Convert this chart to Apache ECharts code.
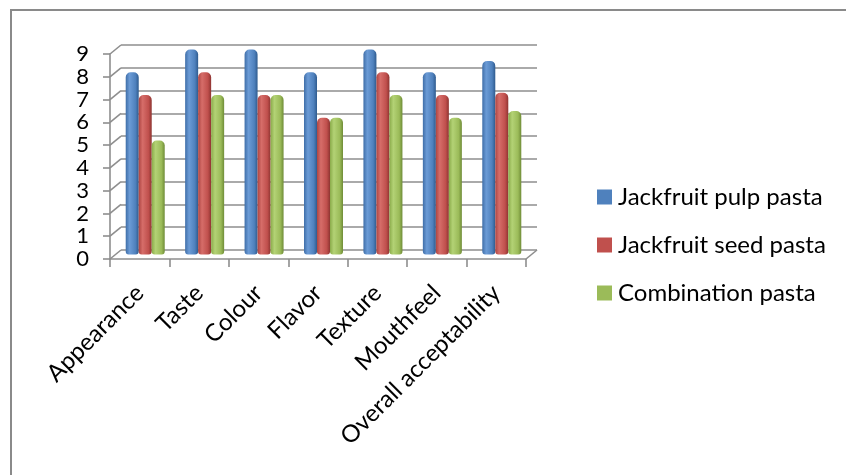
<!DOCTYPE html>
<html><head><meta charset="utf-8">
<script src="https://cdn.jsdelivr.net/npm/echarts@6/dist/echarts.min.js"></script>
<style>html,body{margin:0;padding:0;background:#fff}#c{width:846px;height:475px}</style>
</head><body><div id="c"></div>
<script>
const categories = ['Appearance','Taste','Colour','Flavor','Texture','Mouthfeel','Overall acceptability'];
const seriesNames = ['Jackfruit pulp pasta','Jackfruit seed pasta','Combination pasta'];
const pulpValues = [8, 9, 9, 8, 9, 8, 8.5];
const seedValues = [7, 8, 7, 6, 8, 7, 7.1];
const comboValues = [5, 7, 7, 6, 7, 6, 6.3];
const yTicks = [0,1,2,3,4,5,6,7,8,9];

const FONT = 'Lato';
const GRID = '#8e8e8e';
const FRONT = {left:110, top:54, width:416, height:205};
const DX = 11, DY = 9;
const MID = {left:FRONT.left + DX/2, top:FRONT.top - DY/2, width:FRONT.width, height:FRONT.height};
const BACK = {left:FRONT.left + DX, top:FRONT.top - DY, width:FRONT.width, height:FRONT.height};

const palettes = [
  {base:'#4F81BD', dark:'#2f5b8e', mid:'#3f6ea8', light:'#6b9bd6'},
  {base:'#C0504D', dark:'#8e3431', mid:'#ad4542', light:'#d66d69'},
  {base:'#9BBB59', dark:'#6f8c37', mid:'#8aab4a', light:'#b3d275'}
];
function grad(p){
  return new echarts.graphic.LinearGradient(0,0,1,0,[
    {offset:0, color:p.mid},
    {offset:0.3, color:p.light},
    {offset:0.75, color:p.base},
    {offset:1, color:p.dark}
  ]);
}
const values = [pulpValues, seedValues, comboValues];

const chart = echarts.init(document.getElementById('c'));
const catAxisHidden = (gi) => ({type:'category', gridIndex:gi, data:categories, show:false, boundaryGap:true});
const valAxisHidden = (gi) => ({type:'value', gridIndex:gi, min:0, max:9, interval:1, show:false});

chart.setOption({
  animation:false,
  textStyle:{fontFamily:FONT},
  graphic:[{type:'rect', shape:{x:11, y:10, width:900, height:600}, style:{fill:'none', stroke:'#8a8a8a', lineWidth:2}, silent:true, z:-10}],
  grid:[
    {left:FRONT.left, top:FRONT.top, width:FRONT.width, height:FRONT.height},
    {left:MID.left, top:MID.top, width:MID.width, height:MID.height},
    {left:BACK.left, top:BACK.top, width:BACK.width, height:BACK.height}
  ],
  xAxis:[
    {type:'category', gridIndex:0, data:categories, boundaryGap:true,
     axisLine:{lineStyle:{color:GRID, width:1.6}},
     axisTick:{show:true, length:8, lineStyle:{color:GRID, width:1.6}},
     axisLabel:{rotate:45, fontSize:24, color:'#000', fontFamily:FONT, margin:30, interval:0}},
    catAxisHidden(1),
    catAxisHidden(2)
  ],
  yAxis:[
    {type:'value', gridIndex:0, min:0, max:9, interval:1,
     axisLine:{show:true, lineStyle:{color:GRID, width:1.6}},
     axisTick:{show:true, length:7, lineStyle:{color:GRID, width:1.6}},
     axisLabel:{fontSize:22, lineHeight:17, color:'#000', fontFamily:FONT, margin:21,
                showMinLabel:true, showMaxLabel:true, hideOverlap:false},
     splitLine:{show:false}},
    valAxisHidden(1),
    {type:'value', gridIndex:2, min:0, max:9, interval:1,
     axisLine:{show:false}, axisTick:{show:false}, axisLabel:{show:false},
     splitLine:{show:true, lineStyle:{color:GRID, width:1.6}}}
  ],
  legend:{
    orient:'vertical', left:597, top:185, padding:0, itemWidth:15, itemHeight:15, itemGap:24,
    icon:'rect',
    textStyle:{fontSize:24, color:'#000', fontFamily:FONT, lineHeight:20, padding:[0,0,0,1]},
    data: seriesNames.map((n,i)=>({name:n, itemStyle:{color:palettes[i].base}}))
  },
  series:[
    ...seriesNames.map((n,i)=>({
      name:n, type:'bar', xAxisIndex:1, yAxisIndex:1, data:values[i],
      barWidth:13, barGap:'0%', z:3,
      itemStyle:{color:grad(palettes[i]), borderRadius:[5,5,3,3]}
    })),
    {
      type:'custom', xAxisIndex:0, yAxisIndex:0, silent:true, z:1,
      data: yTicks.map(v=>[0, v]),
      encode:{x:0, y:1},
      renderItem:function(params, api){
        const cs = params.coordSys;
        const v = api.value(1);
        const y = api.coord([0, v])[1];
        const children = [{type:'line', shape:{x1:cs.x, y1:y, x2:cs.x+DX, y2:y-DY}, style:{stroke:GRID, lineWidth:1.6}}];
        if (v === yTicks[0]) {
          children.push({type:'line', shape:{x1:cs.x+cs.width, y1:y, x2:cs.x+cs.width+DX, y2:y-DY}, style:{stroke:GRID, lineWidth:1.6}});
        }
        return {type:'group', children:children};
      }
    }
  ]
});
</script></body></html>
